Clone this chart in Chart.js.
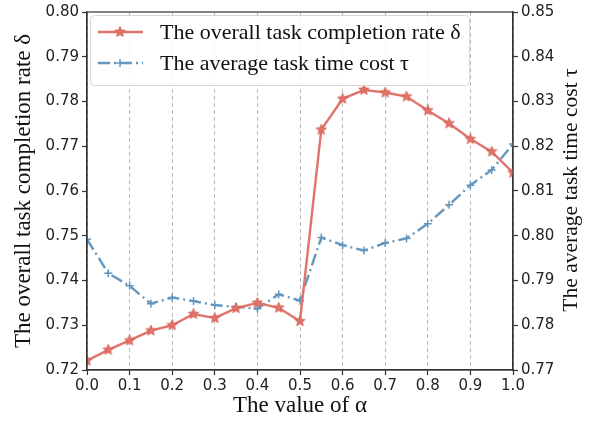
<!DOCTYPE html>
<html>
<head>
<meta charset="utf-8">
<script src="https://cdn.jsdelivr.net/npm/chart.js@4.4.1/dist/chart.umd.min.js"></script>
<style>
  html, body { margin: 0; padding: 0; background: #fff; }
  #wrap { width: 595px; height: 424px; }
</style>
</head>
<body>
<div id="wrap"><canvas id="chart" width="595" height="424"></canvas></div>
<script>
// 데이터
const alphaValues = [0.0, 0.05, 0.1, 0.15, 0.2, 0.25, 0.3, 0.35, 0.4, 0.45, 0.5,
                     0.55, 0.6, 0.65, 0.7, 0.75, 0.8, 0.85, 0.9, 0.95, 1.0];
const completionRate = [0.7221, 0.7245, 0.7266, 0.7288, 0.7300, 0.7325, 0.7316, 0.7338, 0.7350, 0.7339, 0.7309,
                        0.7737, 0.7806, 0.7826, 0.7820, 0.7811, 0.7780, 0.7751, 0.7716, 0.7688, 0.7641];
const timeCost = [0.7992, 0.7916, 0.7888, 0.7848, 0.7862, 0.7854, 0.7845, 0.7841, 0.7837, 0.7869, 0.7855,
                  0.7996, 0.7979, 0.7967, 0.7984, 0.7994, 0.8027, 0.8069, 0.8113, 0.8147, 0.8205];

const legendLabels = ['The overall task completion rate δ', 'The average task time cost τ'];
const xTitle = 'The value of α';
const yLeftTitle = 'The overall task completion rate δ';
const yRightTitle = 'The average task time cost τ';

const RED = '#e0736a';
const BLUE = '#6597be';
const SERIF = "'Liberation Serif', 'Times New Roman', serif";
const SANS = "'DejaVu Sans', sans-serif";

// 별 모양 마커 (matplotlib '*' 흉내)
function makeStar(size, color) {
    const c = document.createElement('canvas');
    c.width = size; c.height = size;
    const g = c.getContext('2d');
    const cx = size / 2, cy = size / 2, R = size / 2 - 0.5, r = R * 0.45;
    g.beginPath();
    for (let i = 0; i < 10; i++) {
        const rad = i % 2 === 0 ? R : r;
        const a = -Math.PI / 2 + i * Math.PI / 5;
        g.lineTo(cx + rad * Math.cos(a), cy + rad * Math.sin(a));
    }
    g.closePath();
    g.fillStyle = color;
    g.fill();
    g.strokeStyle = '#d25a50';
    g.lineWidth = 0.8;
    g.stroke();
    return c;
}
const starImg = makeStar(12, RED);

// 테두리, 축 제목, 범례 그리기
const decorPlugin = {
    id: 'decor',
    afterDraw(chart) {
        const { ctx, chartArea: a } = chart;
        ctx.save();
        ctx.strokeStyle = '#333';
        ctx.lineWidth = 1.2;
        ctx.setLineDash([]);
        ctx.strokeRect(a.left, a.top, a.right - a.left, a.bottom - a.top);

        ctx.fillStyle = '#111';
        ctx.textAlign = 'center';
        ctx.textBaseline = 'middle';
        ctx.font = `23px ${SERIF}`;
        ctx.fillText(xTitle, (a.left + a.right) / 2, 406);

        ctx.save();
        ctx.translate(24, 191);
        ctx.rotate(-Math.PI / 2);
        ctx.fillText(yLeftTitle, 0, 0);
        ctx.restore();

        ctx.save();
        ctx.font = `21.5px ${SERIF}`;
        ctx.translate(571, 190);
        ctx.rotate(-Math.PI / 2);
        ctx.fillText(yRightTitle, 0, 0);
        ctx.restore();

        // 범례 박스
        const bx = 90.5, by = 15.5, bw = 379, bh = 70, rr = 4;
        ctx.beginPath();
        ctx.roundRect(bx, by, bw, bh, rr);
        ctx.fillStyle = 'rgba(255,255,255,0.85)';
        ctx.fill();
        ctx.strokeStyle = '#d8d8d8';
        ctx.lineWidth = 1;
        ctx.stroke();

        const rows = [32, 63];
        // 빨간 선
        ctx.strokeStyle = RED;
        ctx.lineWidth = 2.4;
        ctx.beginPath(); ctx.moveTo(98, rows[0]); ctx.lineTo(143, rows[0]); ctx.stroke();
        ctx.drawImage(starImg, 120 - 6, rows[0] - 6);
        // 파란 선
        ctx.strokeStyle = BLUE;
        ctx.setLineDash([12, 4, 2, 4]);
        ctx.beginPath(); ctx.moveTo(98, rows[1]); ctx.lineTo(143, rows[1]); ctx.stroke();
        ctx.setLineDash([]);
        ctx.lineWidth = 1.5;
        ctx.beginPath();
        ctx.moveTo(120, rows[1] - 4); ctx.lineTo(120, rows[1] + 4);
        ctx.moveTo(116, rows[1]); ctx.lineTo(124, rows[1]);
        ctx.stroke();

        ctx.fillStyle = '#111';
        ctx.font = `22px ${SERIF}`;
        ctx.textAlign = 'left';
        ctx.fillText(legendLabels[0], 160, rows[0] + 1);
        ctx.fillText(legendLabels[1], 160, rows[1] + 1);
        ctx.restore();
    }
};

const tickFont = { family: SANS, size: 15 };

new Chart(document.getElementById('chart'), {
    type: 'line',
    data: {
        datasets: [
            {
                label: legendLabels[0],
                data: alphaValues.map((x, i) => ({ x, y: completionRate[i] })),
                borderColor: RED,
                borderWidth: 2.4,
                pointStyle: starImg,
                pointRadius: 6,
                tension: 0,
                yAxisID: 'y'
            },
            {
                label: legendLabels[1],
                data: alphaValues.map((x, i) => ({ x, y: timeCost[i] })),
                borderColor: BLUE,
                borderWidth: 2.4,
                borderDash: [12, 4, 2, 4],
                pointStyle: 'cross',
                pointRadius: 4,
                pointBorderWidth: 1.5,
                pointBorderColor: BLUE,
                tension: 0,
                yAxisID: 'y1'
            }
        ]
    },
    options: {
        responsive: false,
        animation: false,
        devicePixelRatio: 1,
        layout: { padding: { top: 12, left: 0, right: 0, bottom: 0 } },
        plugins: { legend: { display: false }, tooltip: { enabled: false } },
        scales: {
            x: {
                type: 'linear', min: 0, max: 1,
                afterFit: s => { s.height = 54; },
                ticks: { stepSize: 0.1, font: tickFont, color: '#222', padding: 2, maxRotation: 0,
                         callback: v => v.toFixed(1) },
                grid: { color: '#a8a8a8', lineWidth: 0.8,
                        tickColor: '#333', tickBorderDash: [], tickLength: 5, tickWidth: 1.2 },
                border: { color: '#333', width: 1.2, dash: [4, 3] }
            },
            y: {
                position: 'left', min: 0.72, max: 0.80,
                afterFit: s => { s.width = 87; },
                ticks: { stepSize: 0.01, font: tickFont, color: '#222', padding: 3,
                         callback: v => v.toFixed(2) },
                grid: { drawOnChartArea: false, tickColor: '#333', tickLength: 5, tickWidth: 1.2 },
                border: { color: '#333', width: 1.2 }
            },
            y1: {
                position: 'right', min: 0.77, max: 0.85,
                afterFit: s => { s.width = 82; },
                ticks: { stepSize: 0.01, font: tickFont, color: '#222', padding: 3,
                         callback: v => v.toFixed(2) },
                grid: { drawOnChartArea: false, tickColor: '#333', tickLength: 5, tickWidth: 1.2 },
                border: { color: '#333', width: 1.2 }
            }
        }
    },
    plugins: [decorPlugin]
});
</script>
</body>
</html>
